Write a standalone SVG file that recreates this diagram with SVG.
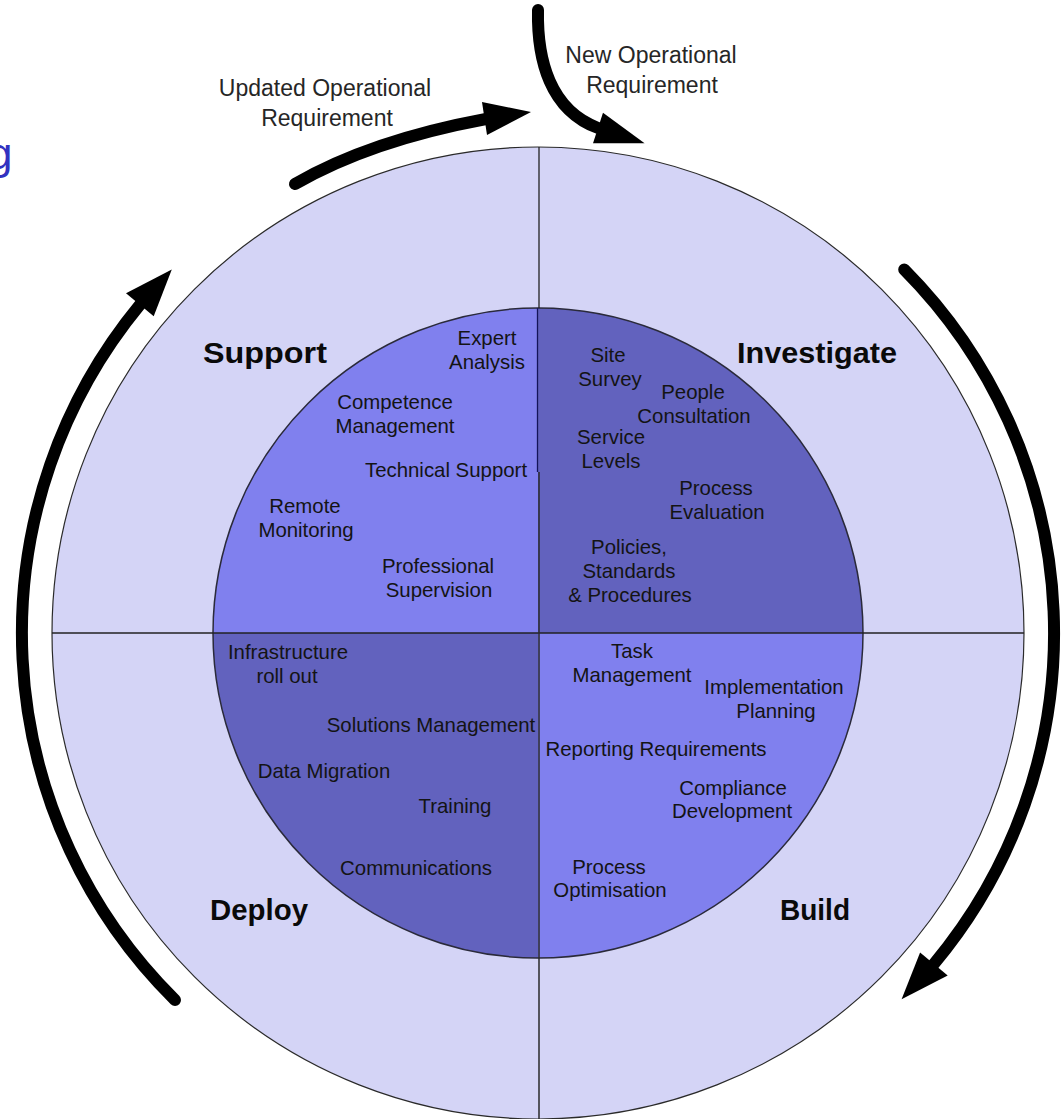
<svg xmlns="http://www.w3.org/2000/svg" width="1063" height="1119" viewBox="0 0 1063 1119">
<defs>
<style>
.ring{fill:#D4D4F6;stroke:#2a2a2a;stroke-width:1.2}
.med{fill:#8080EE}
.dark{fill:#6262BE}
.in{font-family:"Liberation Sans",Arial,sans-serif;font-size:20.4px;fill:#141414;text-anchor:middle}
.top{font-family:"Liberation Sans",Arial,sans-serif;font-size:23px;fill:#262626;text-anchor:middle}
.big{font-family:"Liberation Sans",Arial,sans-serif;font-size:29px;font-weight:bold;fill:#0a0a0a;text-anchor:middle}
.shaft{fill:none;stroke:#000;stroke-width:12;stroke-linecap:round}
.head{fill:#000}
</style>
</defs>
<rect width="1063" height="1119" fill="#fff"/>
<text x="-12" y="169" font-family="'Liberation Sans',Arial,sans-serif" font-size="44" fill="#3232C0">g</text>

<g id="outer-ring">
<circle class="ring" cx="538" cy="633" r="486"/>
</g>

<g id="support">
<path class="med" d="M538,633 L213,633 A325,325 0 0 1 538,308 Z"/>
<text class="big" x="265" y="363" textLength="124" lengthAdjust="spacingAndGlyphs">Support</text>
<text class="in" x="487" y="345">Expert</text>
<text class="in" x="487" y="369">Analysis</text>
<text class="in" x="395" y="409">Competence</text>
<text class="in" x="395" y="433">Management</text>
<text class="in" x="446" y="477">Technical Support</text>
<text class="in" x="305" y="513">Remote</text>
<text class="in" x="306" y="537">Monitoring</text>
<text class="in" x="438" y="573">Professional</text>
<text class="in" x="439" y="597">Supervision</text>
</g>

<g id="investigate">
<path class="dark" d="M538,633 L538,308 A325,325 0 0 1 863,633 Z"/>
<text class="big" x="817" y="363" textLength="160" lengthAdjust="spacingAndGlyphs">Investigate</text>
<text class="in" x="608" y="362">Site</text>
<text class="in" x="610" y="386">Survey</text>
<text class="in" x="693" y="399">People</text>
<text class="in" x="694" y="423">Consultation</text>
<text class="in" x="611" y="444">Service</text>
<text class="in" x="611" y="468">Levels</text>
<text class="in" x="716" y="495">Process</text>
<text class="in" x="717" y="519">Evaluation</text>
<text class="in" x="629" y="554">Policies,</text>
<text class="in" x="629" y="578">Standards</text>
<text class="in" x="630" y="602">&amp; Procedures</text>
</g>

<g id="build">
<path class="med" d="M538,633 L863,633 A325,325 0 0 1 538,958 Z"/>
<text class="big" x="815" y="920" textLength="70" lengthAdjust="spacingAndGlyphs">Build</text>
<text class="in" x="632" y="658">Task</text>
<text class="in" x="632" y="682">Management</text>
<text class="in" x="774" y="694">Implementation</text>
<text class="in" x="776" y="718">Planning</text>
<text class="in" x="656" y="756">Reporting Requirements</text>
<text class="in" x="733" y="795">Compliance</text>
<text class="in" x="732" y="818">Development</text>
<text class="in" x="609" y="874">Process</text>
<text class="in" x="610" y="897">Optimisation</text>
</g>

<g id="deploy">
<path class="dark" d="M538,633 L538,958 A325,325 0 0 1 213,633 Z"/>
<text class="big" x="259" y="920" textLength="98" lengthAdjust="spacingAndGlyphs">Deploy</text>
<text class="in" x="288" y="659">Infrastructure</text>
<text class="in" x="287" y="683">roll out</text>
<text class="in" x="431" y="732">Solutions Management</text>
<text class="in" x="324" y="778">Data Migration</text>
<text class="in" x="455" y="813">Training</text>
<text class="in" x="416" y="875">Communications</text>
</g>

<g id="dividers">
<circle cx="538" cy="633" r="325" fill="none" stroke="#2a2a3a" stroke-width="1.5"/>
<line x1="52" y1="633" x2="1024" y2="633" stroke="#222" stroke-width="1.5"/>
<line x1="539" y1="147" x2="539" y2="308" stroke="#222" stroke-width="1.3"/>
<line x1="537.5" y1="308" x2="537.5" y2="472" stroke="#14145a" stroke-width="1.3"/>
<line x1="539" y1="472" x2="539" y2="1119" stroke="#2a2a2a" stroke-width="1.5"/>
</g>

<g id="labels">
<text class="top" x="325" y="96">Updated Operational</text>
<text class="top" x="327" y="126">Requirement</text>
<text class="top" x="651" y="63">New Operational</text>
<text class="top" x="652" y="93">Requirement</text>
</g>

<g id="connectors">
<path class="shaft" d="M175,1000 A516,516 0 0 1 139.9,304.8"/>
<polygon class="head" points="171.8,269.4 126,293.3 153.7,316.2"/>
<path class="shaft" d="M904.2,269.4 A516,516 0 0 1 933.9,964"/>
<polygon class="head" points="901.6,999.2 920.1,952.4 947.7,975.5"/>
<path class="shaft" d="M295,184 C340,158 405,134 486,119"/>
<polygon class="head" points="482,102 531,112 487,135"/>
<path class="shaft" d="M538,10 C537,60 550,110 598,128"/>
<polygon class="head" points="603,112.8 644.6,143.2 593,143.2"/>
</g>
</svg>
